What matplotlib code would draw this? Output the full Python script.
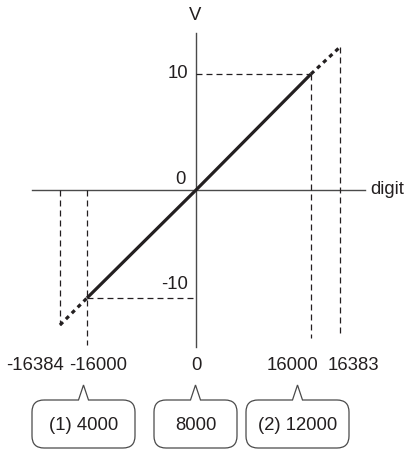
import numpy as np
import matplotlib
matplotlib.use("Agg")
import matplotlib.pyplot as plt
from matplotlib.path import Path
from matplotlib.patches import PathPatch

# digital value -> analog output (schematic, not to scale)
DIGIT_TICKS = [-16384, -16000, 0, 16000, 16383]
DIGIT_LABELS = ["-16384", "-16000", "0", "16000", "16383"]
VOLT_TICKS = [-10, 10]
VOLT_LABELS = ["-10", "10"]

LINE_DIGIT = [-16000, 0, 16000]
LINE_VOLT = [-10, 0, 10]
EXT_HI_DIGIT = [16000, 16383]
EXT_HI_VOLT = [10, 10.24]
EXT_LO_DIGIT = [-16384, -16000]
EXT_LO_VOLT = [-10.24, -10]

CALLOUT_TEXT = ["(1) 4000", "8000", "(2) 12000"]

INK = "#231f20"
GRAY = "#4a4a4a"
FS = 13.3
plt.rcParams["font.family"] = ["Liberation Sans", "DejaVu Sans"]
plt.rcParams["lines.scale_dashes"] = False


def piecewise(vals, px):
    """schematic axis: stretch the region beyond +-16000 / +-10"""
    far = 1e6
    s_lo = (px[1] - px[0]) / (vals[1] - vals[0])
    s_hi = (px[-1] - px[-2]) / (vals[-1] - vals[-2])
    s_lo = (px[2] - px[1]) / (vals[2] - vals[1])
    s_hi = (px[-2] - px[-3]) / (vals[-2] - vals[-3])
    v = np.r_[-far, vals, far]
    p = np.r_[px[0] - (vals[0] + far) * s_lo, px, px[-1] + (far - vals[-1]) * s_hi]
    return (lambda a: np.interp(a, v, p)), (lambda a: np.interp(a, p, v))


fx, ix = piecewise([-16384, -16000, 0, 16000, 16383], [-136, -109, 0, 115, 144])
fy, iy = piecewise([-10.24, -10, 0, 10, 10.24], [-135, -108, 0, 116, 143])

W, H = 405, 451
X0, Y0 = 196, 190  # origin in pixels (from top-left)

fig = plt.figure(figsize=(W / 100, H / 100), dpi=100)
ax = fig.add_axes([0, 0, 1, 1])
ax.set_xscale("function", functions=(fx, ix))
ax.set_yscale("function", functions=(fy, iy))
ax.set_xlim(ix(-X0), ix(W - X0))
ax.set_ylim(iy(-(H - Y0)), iy(Y0))
ax.axis("off")

# axes
ax.axhline(0, xmin=32 / W, xmax=365 / W, color=GRAY, lw=1.0)
ax.axvline(0, ymin=(H - 347) / H, ymax=(H - 33) / H, color=GRAY, lw=1.0)

# guides
thin = dict(color=INK, lw=0.9, linestyle=(0, (4.3, 2.9)))
ax.plot([0, LINE_DIGIT[2]], [LINE_VOLT[2]] * 2, **thin)
ax.plot([LINE_DIGIT[0], 0], [LINE_VOLT[0]] * 2, **thin)
ax.plot([EXT_HI_DIGIT[0]] * 2, [EXT_HI_VOLT[0], iy(-148)], **thin)
ax.plot([EXT_HI_DIGIT[1]] * 2, [EXT_HI_VOLT[1], iy(-147)], **thin)
ax.plot([EXT_LO_DIGIT[0]] * 2, [0, EXT_LO_VOLT[0]], **thin)
ax.plot([EXT_LO_DIGIT[1]] * 2, [0, iy(-155)], **thin)

# characteristic
ax.plot(LINE_DIGIT, LINE_VOLT, color=INK, lw=2.3, solid_capstyle="butt", zorder=5)
ax.plot(EXT_HI_DIGIT, EXT_HI_VOLT, color=INK, lw=2.3, linestyle=(0, (3, 3)), zorder=5)
ax.plot(EXT_LO_DIGIT, EXT_LO_VOLT, color=INK, lw=2.3, linestyle=(0, (3, 3)), zorder=5)

# digit labels under the chart
label_cx = [35, 98, 196, 293, 353]
for d, lab, cx in zip(DIGIT_TICKS, DIGIT_LABELS, label_cx):
    ax.annotate(lab, xy=(d, 0), xytext=(cx - X0 - fx(d), -(366 - Y0)),
                textcoords="offset pixels", ha="center", va="center",
                fontsize=FS, color=INK)

# volt labels
ax.annotate(VOLT_LABELS[1], xy=(0, VOLT_TICKS[1]), xytext=(-8, 0),
            textcoords="offset pixels", ha="right", va="center", fontsize=FS, color=INK)
ax.annotate(VOLT_LABELS[0], xy=(0, VOLT_TICKS[0]), xytext=(-8, 13),
            textcoords="offset pixels", ha="right", va="center", fontsize=FS, color=INK)
ax.annotate("0", xy=(0, 0), xytext=(-10, 10),
            textcoords="offset pixels", ha="right", va="center", fontsize=FS, color=INK)

# overlay in pixel coords for axis names and callouts
ov = fig.add_axes([0, 0, 1, 1])
ov.set_xlim(0, W)
ov.set_ylim(H, 0)
ov.axis("off")
ov.patch.set_alpha(0)

ov.text(195, 16, "V", ha="center", va="center", fontsize=FS, color=INK)
ov.text(370, 190, "digit", ha="left", va="center", fontsize=FS, color=INK)


def callout(cx, half_w, top=400, bot=448, tip=385, r=12, w=5):
    L, R = cx - half_w, cx + half_w
    verts = [(L + r, top), (cx - w, top), (cx, tip), (cx + w, top), (R - r, top),
             (R, top), (R, top + r), (R, bot - r), (R, bot), (R - r, bot),
             (L + r, bot), (L, bot), (L, bot - r), (L, top + r), (L, top), (L + r, top)]
    codes = [Path.MOVETO, Path.LINETO, Path.LINETO, Path.LINETO, Path.LINETO,
             Path.CURVE3, Path.CURVE3, Path.LINETO, Path.CURVE3, Path.CURVE3,
             Path.LINETO, Path.CURVE3, Path.CURVE3, Path.LINETO, Path.CURVE3, Path.CURVE3]
    ov.add_patch(PathPatch(Path(verts, codes), facecolor="white", edgecolor=GRAY, lw=0.9))


for txt, cx, hw in zip(CALLOUT_TEXT, [83.5, 195.5, 297.5], [51.5, 41.5, 51.5]):
    callout(cx, hw)
    ov.text(cx, 425, txt, ha="center", va="center", fontsize=FS, color=INK)

fig.savefig("out.png", dpi=100)
